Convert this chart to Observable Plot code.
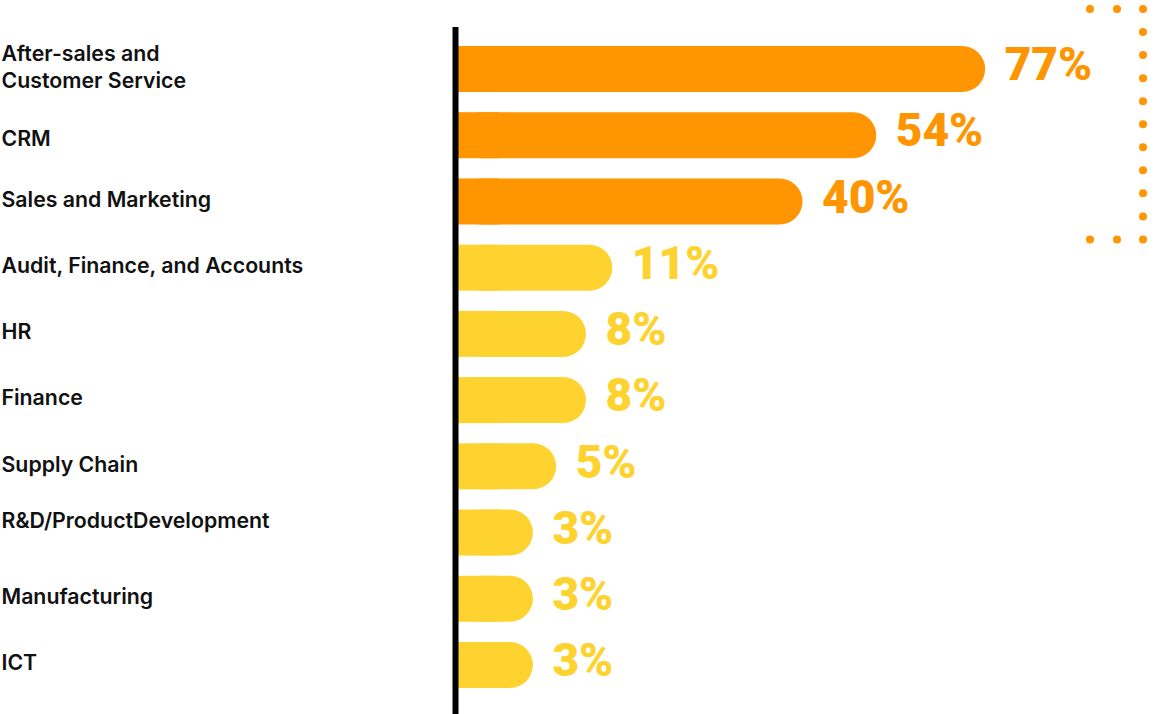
<!DOCTYPE html>
<html><head><meta charset="utf-8">
<script src="https://cdn.jsdelivr.net/npm/d3@7"></script>
<script src="https://cdn.jsdelivr.net/npm/@observablehq/plot@0.6"></script>
<style>body{margin:0;background:#fff;} svg{display:block;}</style>
</head><body><div id="chart"></div>
<script>
const categories = ["After-sales and\nCustomer Service","CRM","Sales and Marketing","Audit, Finance, and Accounts","HR","Finance","Supply Chain","R&D/ProductDevelopment","Manufacturing","ICT"];
const values = [77,54,40,11,8,8,5,3,3,3];
const tiers = ["High","High","High","Low","Low","Low","Low","Low","Low","Low"];
const tierDomain = ["High","Low"];
const tierColors = ["#ff9500","#fed330"];

const data = categories.map((c,i)=>({category:c, value:values[i], tier:tiers[i]}));

// label vertical nudges (as in the original layout)
const lowered = new Set(["CRM"]);
const raised = new Set(["R&D/ProductDevelopment"]);
const labelStyle = {y:"category", text:"category", frameAnchor:"left", textAnchor:"start", dx:-480, fontSize:21.3, fontWeight:600, lineHeight:1.3, fill:"#111"};

const plot = Plot.plot({
  width:1155, height:714, marginLeft:481, marginRight:69, marginTop:27, marginBottom:0,
  style:{fontFamily:"Inter, 'Open Sans', sans-serif", background:"#fff"},
  x:{type:"pow", exponent:0.68, domain:[0,100], range:[477,1084], axis:null},
  y:{domain:categories, range:[46,688], paddingInner:0.305, paddingOuter:0, axis:null, round:false},
  color:{domain:tierDomain, range:tierColors},
  marks:[
    Plot.barX(data,{x1:0,x2:"value",y:"category",fill:"tier",rx:23,insetLeft:-19}),
    Plot.barX(data,{x1:0,x2:0,y:"category",fill:"tier",insetLeft:-19,insetRight:-22}),
    Plot.ruleX([0],{dx:-22, stroke:"#000", strokeWidth:6}),
    Plot.text(data.filter(d=>!lowered.has(d.category)&&!raised.has(d.category)), {...labelStyle, dy:-4}),
    Plot.text(data.filter(d=>lowered.has(d.category)), {...labelStyle, dy:1}),
    Plot.text(data.filter(d=>raised.has(d.category)), {...labelStyle, dy:-14}),
    Plot.text(data,{x:"value", y:"category", text:d=>d.value+"%", textAnchor:"start", dx:19, dy:-4, fontSize:46, fontWeight:900, fill:"tier", fontFamily:"Roboto, Inter, sans-serif"})
  ]
});
document.getElementById("chart").appendChild(plot);

// decorative dotted bracket around the top tier
const ys = plot.scale("y");
const topCats = categories.filter((c,i)=>tiers[i]==="High");
const y0 = ys.apply(topCats[0]) - 37;
const y1 = ys.apply(topCats[topCats.length-1]) + ys.bandwidth + 15;
const xr = 1143;
const g = d3.select(plot).append("g").attr("fill", tierColors[0]);
const n = 11;
for (let k=0;k<n;k++) g.append("circle").attr("cx",xr).attr("cy",y0+(y1-y0)*k/(n-1)).attr("r",4);
for (const yy of [y0,y1]) for (const dxx of [-53,-26]) g.append("circle").attr("cx",xr+dxx).attr("cy",yy).attr("r",4);
</script>
</body></html>
